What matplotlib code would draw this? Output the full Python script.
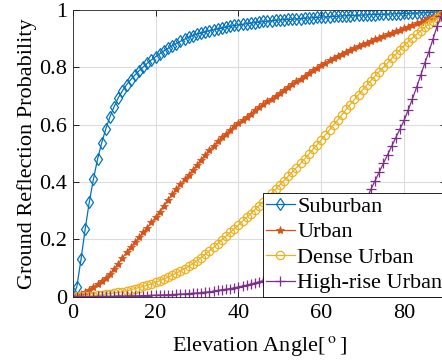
import matplotlib
matplotlib.use("Agg")
import matplotlib.pyplot as plt
import numpy as np

angles = list(range(0, 91))

suburban = [0.000, 0.035, 0.130, 0.235, 0.330, 0.410, 0.480, 0.537, 0.586, 0.628,
            0.663, 0.694, 0.718, 0.739, 0.757, 0.773, 0.788, 0.801, 0.814, 0.826,
            0.837, 0.847, 0.857, 0.866, 0.875, 0.883, 0.891, 0.898, 0.905, 0.911,
            0.916, 0.920, 0.924, 0.928, 0.931, 0.934, 0.937, 0.940, 0.943, 0.946,
            0.948, 0.950, 0.952, 0.954, 0.956, 0.958, 0.960, 0.961, 0.962, 0.964,
            0.965, 0.966, 0.967, 0.968, 0.969, 0.970, 0.971, 0.972, 0.973, 0.974,
            0.975, 0.976, 0.977, 0.978, 0.978, 0.979, 0.980, 0.980, 0.981, 0.982,
            0.982, 0.983, 0.984, 0.984, 0.985, 0.985, 0.986, 0.986, 0.987, 0.987,
            0.988, 0.988, 0.989, 0.989, 0.990, 0.990, 0.991, 0.992, 0.993, 0.994,
            0.995]

urban = [0.000, 0.003, 0.008, 0.015, 0.025, 0.035, 0.045, 0.055, 0.067, 0.080,
         0.097, 0.115, 0.135, 0.155, 0.173, 0.190, 0.207, 0.224, 0.241, 0.259,
         0.277, 0.297, 0.318, 0.338, 0.357, 0.375, 0.392, 0.409, 0.425, 0.442,
         0.460, 0.478, 0.495, 0.511, 0.527, 0.542, 0.556, 0.569, 0.582, 0.594,
         0.606, 0.617, 0.628, 0.639, 0.650, 0.661, 0.671, 0.681, 0.691, 0.701,
         0.711, 0.721, 0.731, 0.741, 0.751, 0.761, 0.771, 0.781, 0.790, 0.799,
         0.808, 0.816, 0.824, 0.832, 0.840, 0.847, 0.854, 0.861, 0.868, 0.874,
         0.880, 0.886, 0.892, 0.898, 0.904, 0.910, 0.915, 0.920, 0.926, 0.931,
         0.936, 0.942, 0.948, 0.953, 0.959, 0.965, 0.971, 0.977, 0.983, 0.989,
         0.995]

dense_urban = [0.000, 0.001, 0.001, 0.002, 0.003, 0.004, 0.005, 0.007, 0.009, 0.011,
               0.013, 0.015, 0.018, 0.021, 0.024, 0.028, 0.032, 0.036, 0.040, 0.045,
               0.050, 0.056, 0.062, 0.068, 0.075, 0.082, 0.090, 0.098, 0.106, 0.115,
               0.125, 0.136, 0.148, 0.160, 0.172, 0.185, 0.198, 0.211, 0.224, 0.237,
               0.250, 0.263, 0.277, 0.290, 0.304, 0.318, 0.332, 0.346, 0.361, 0.375,
               0.390, 0.405, 0.420, 0.435, 0.450, 0.465, 0.481, 0.497, 0.514, 0.530,
               0.547, 0.565, 0.582, 0.600, 0.617, 0.635, 0.653, 0.670, 0.688, 0.705,
               0.722, 0.738, 0.754, 0.770, 0.785, 0.800, 0.815, 0.831, 0.846, 0.861,
               0.876, 0.889, 0.902, 0.915, 0.928, 0.940, 0.951, 0.961, 0.971, 0.981,
               0.990]

high_rise = [0.000, 0.000, 0.000, 0.000, 0.000, 0.000, 0.001, 0.001, 0.001, 0.001,
             0.001, 0.002, 0.002, 0.002, 0.003, 0.003, 0.003, 0.004, 0.004, 0.005,
             0.005, 0.006, 0.006, 0.007, 0.007, 0.008, 0.009, 0.010, 0.011, 0.012,
             0.013, 0.014, 0.016, 0.017, 0.019, 0.022, 0.024, 0.026, 0.028, 0.031,
             0.034, 0.037, 0.040, 0.044, 0.048, 0.052, 0.056, 0.061, 0.065, 0.070,
             0.075, 0.081, 0.087, 0.094, 0.101, 0.108, 0.117, 0.126, 0.135, 0.145,
             0.155, 0.167, 0.179, 0.192, 0.206, 0.220, 0.237, 0.254, 0.273, 0.293,
             0.315, 0.343, 0.375, 0.405, 0.435, 0.465, 0.495, 0.525, 0.555, 0.585,
             0.615, 0.652, 0.690, 0.730, 0.772, 0.815, 0.855, 0.900, 0.945, 0.980,
             1.000]

labels = ["Suburban", "Urban", "Dense Urban", "High-rise Urban"]
x_ticks = [0, 20, 40, 60, 80]
y_ticks = [0, 0.2, 0.4, 0.6, 0.8, 1]
y_tick_labels = ["0", "0.2", "0.4", "0.6", "0.8", "1"]

plt.rcParams['font.family'] = ['Liberation Serif', 'DejaVu Serif']
plt.rcParams['mathtext.fontset'] = 'stix'

FS = 16

fig = plt.figure(figsize=(4.42, 3.60), dpi=100)
ax = fig.add_axes([0.1645, 0.1758, 0.8435, 0.7964])

colors = ["#0072BD", "#D95319", "#EDB120", "#7E2F8E"]
styles = [
    dict(marker='d', markersize=6, markerfacecolor='none', markeredgewidth=0.9),
    dict(marker='*', markersize=6, markeredgewidth=0.6),
    dict(marker='o', markersize=6, markerfacecolor='none', markeredgewidth=0.9),
    dict(marker='+', markersize=6.5, markeredgewidth=0.9),
]
series = [suburban, urban, dense_urban, high_rise]
for vals, lab, c, st in zip(series, labels, colors, styles):
    ax.plot(angles, vals, color=c, linewidth=0.9, label=lab, **st)

ax.set_xlim(0, 90)
ax.set_ylim(0, 1)
ax.set_xticks(x_ticks)
ax.set_yticks(y_ticks)
ax.set_yticklabels(y_tick_labels)
ax.tick_params(direction='in', top=True, right=True, labelsize=FS, length=4, width=0.6)
ax.tick_params(axis='x', pad=5)
ax.tick_params(axis='y', pad=4)
ax.grid(True, color='#dcdcdc', linewidth=0.8)
ax.set_axisbelow(True)
for s in ax.spines.values():
    s.set_linewidth(0.6)
    s.set_color('#262626')

ax.set_xlabel(r'Elevation Angle[$\,^{\mathrm{o}}\,$]', fontsize=FS, labelpad=8)
ax.set_ylabel('Ground Reflection Probability', fontsize=FS, labelpad=2)

leg = ax.legend(loc='lower right', bbox_to_anchor=(1, 0), borderaxespad=0,
                fontsize=FS, fancybox=False, framealpha=1, edgecolor='black',
                handlelength=1.3, handletextpad=0.1, labelspacing=0.22,
                borderpad=0.15)
leg.get_frame().set_linewidth(0.6)

fig.savefig("out.png", dpi=100)
